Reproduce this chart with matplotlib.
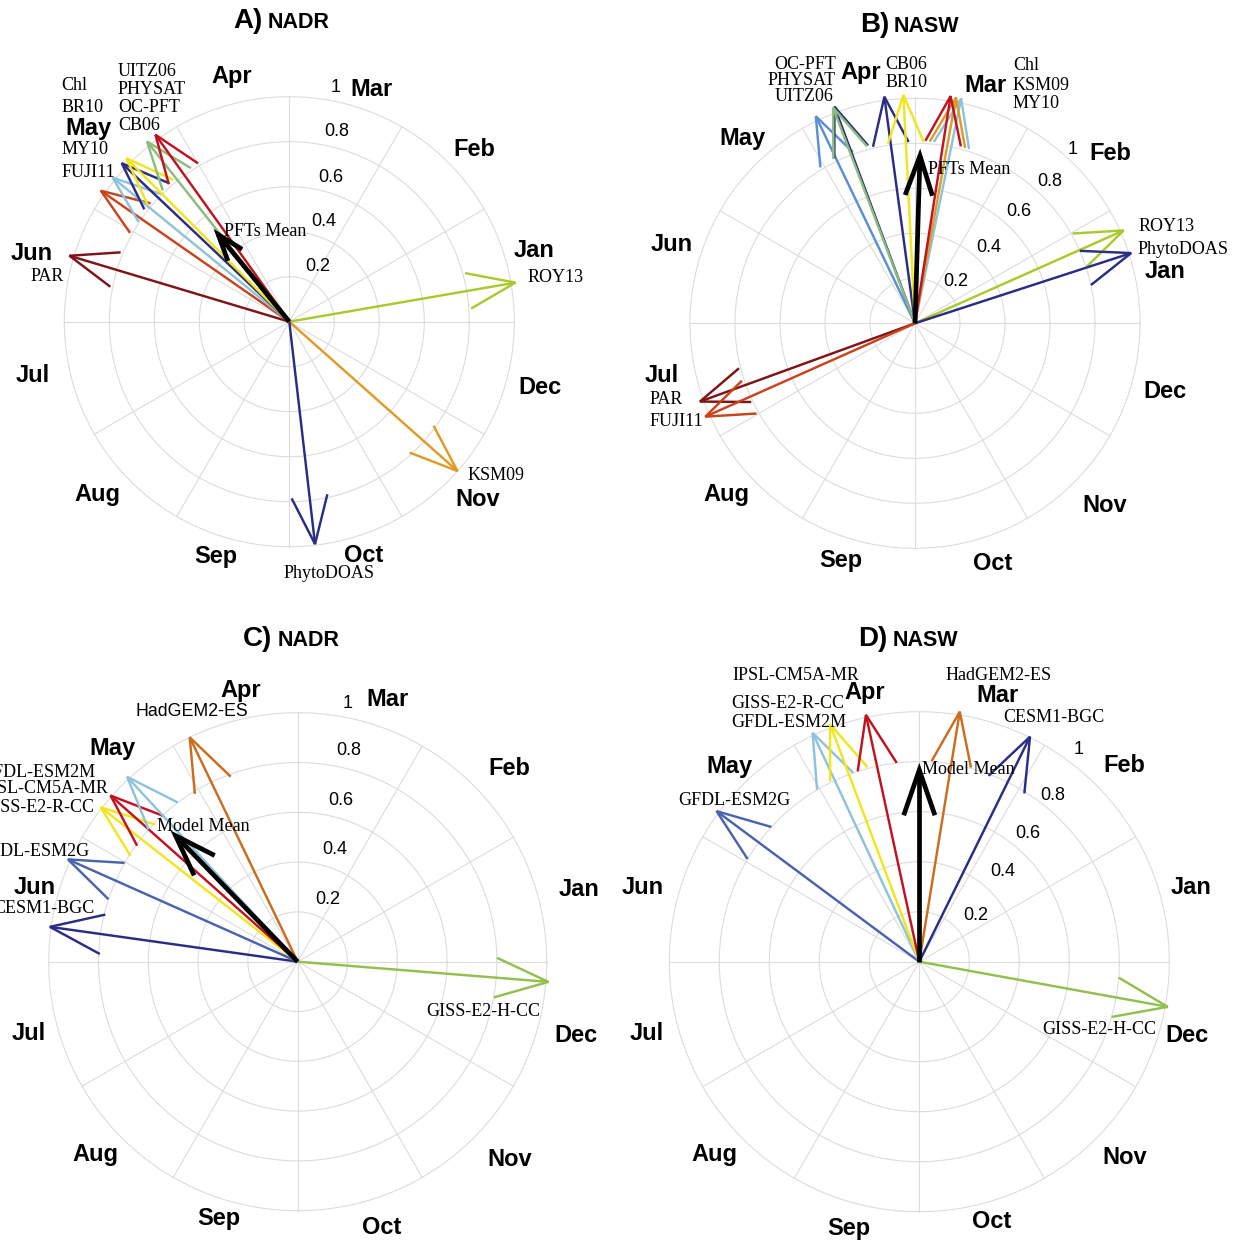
"""Seasonal phasing of phytoplankton products and CMIP5 models, NADR/NASW.

Each arrow points at the month of the seasonal maximum (months run
anticlockwise, January just above the +x axis) and its length is the
normalised amplitude. Black arrow = ensemble mean.
"""

import matplotlib

matplotlib.use("Agg")
import matplotlib.pyplot as plt
import numpy as np

MONTHS = ["Jan", "Feb", "Mar", "Apr", "May", "Jun",
          "Jul", "Aug", "Sep", "Oct", "Nov", "Dec"]
RINGS = [0.2, 0.4, 0.6, 0.8, 1.0]
RING_LABELS = ["0.2", "0.4", "0.6", "0.8", "1"]

# colours
DARKRED = "#7e1416"
RED = "#c0131f"
ORANGERED = "#c9431c"
ORANGE = "#e09b27"
HADORANGE = "#cb6c1f"
YELLOW = "#f2e51c"
YGREEN = "#a9c92d"
GISSGREEN = "#93bf4f"
GREEN = "#8dbd7d"
LIGHTBLUE = "#8fc3dc"
CORNFLOWER = "#5b8fd5"
BLUE = "#4a63ad"
NAVY = "#2b2c83"
GRID = "#dcdcdc"

# A) NADR, satellite products: phase angle (deg) and normalised amplitude
NADR_SAT_ANGLE = [163.3, 9.8, 318.4, 276.6, 145.2, 140.8, 136.6, 134.9, 128.3, 125.6]
NADR_SAT_AMP = [1.02, 1.02, 1.0, 0.995, 1.02, 1.013, 1.025, 1.025, 1.02, 1.022]
NADR_SAT_COLOR = [DARKRED, YGREEN, ORANGE, NAVY, ORANGERED, LIGHTBLUE, NAVY, YELLOW, GREEN, RED]
NADR_SAT_MEAN = (129.2, 0.50)

# B) NASW, satellite products
NASW_SAT_ANGLE = [115.6, 110.4, 110.8, 97.7, 92.9, 78.4, 79.7, 81.1, 200.0, 204.0, 24.0, 18.0]
NASW_SAT_AMP = [1.02, 1.027, 1.025, 1.016, 1.016, 1.02, 1.02, 1.022, 1.017, 1.02, 1.015, 1.01]
NASW_SAT_COLOR = [CORNFLOWER, NAVY, GREEN, NAVY, YELLOW, LIGHTBLUE, ORANGE, RED,
                  DARKRED, ORANGERED, YGREEN, NAVY]
NASW_SAT_MEAN = (88.3, 0.745)

# C) NADR, CMIP5 models
NADR_MOD_ANGLE = [115.7, 172.0, 156.0, 141.9, 138.4, 132.7, 355.4]
NADR_MOD_AMP = [1.0, 1.005, 1.01, 1.005, 1.005, 1.01, 1.01]
NADR_MOD_COLOR = [HADORANGE, NAVY, BLUE, YELLOW, RED, LIGHTBLUE, GISSGREEN]
NADR_MOD_MEAN = (134.1, 0.705)

# D) NASW, CMIP5 models
NASW_MOD_ANGLE = [143.4, 115.0, 110.6, 102.2, 80.8, 63.8, 349.7]
NASW_MOD_AMP = [1.01, 1.01, 1.015, 1.01, 1.013, 1.003, 1.01]
NASW_MOD_COLOR = [BLUE, LIGHTBLUE, YELLOW, RED, HADORANGE, NAVY, GISSGREEN]
NASW_MOD_MEAN = (90.0, 0.767)

# ---- layout (figure pixels, y measured from the top) ----
W, H = 1240, 1243

PANELS = [
    dict(box=(0, 0, 620, 610), center=(289.3, 321.7), R=225,
         angle=NADR_SAT_ANGLE, amp=NADR_SAT_AMP, color=NADR_SAT_COLOR, mean=NADR_SAT_MEAN,
         title=("A)", "NADR", 263, 268, 28),
         months=[(534, 250), (474, 150), (371, 89), (232, 77), (88, 128), (32, 253),
                 (33, 375), (97, 494), (216, 556), (364, 556), (478, 499), (540, 387)],
         rings=[(318, 266), (324, 221), (331, 177), (337, 132), (336, 87)],
         labels=[("Chl", 61.5, 86, "left"), ("BR10", 61.5, 107, "left"),
                 ("MY10", 61.5, 150, "left"), ("FUJI11", 61.5, 172.5, "left"),
                 ("UITZ06", 118, 71, "left"), ("PHYSAT", 118, 89.3, "left"),
                 ("OC-PFT", 118, 107.3, "left"), ("CB06", 118, 125.3, "left"),
                 ("PFTs Mean", 224, 231, "left"), ("PAR", 64, 276.5, "right"),
                 ("ROY13", 528, 278, "left"), ("KSM09", 468, 475, "left"),
                 ("PhytoDOAS", 329, 573, "center")]),
    dict(box=(620, 0, 1240, 610), center=(915.0, 323.3), R=225,
         angle=NASW_SAT_ANGLE, amp=NASW_SAT_AMP, color=NASW_SAT_COLOR, mean=NASW_SAT_MEAN,
         title=("B)", "NASW", 889, 894, 32),
         months=[(1165, 272), (1110, 154), (986, 86), (861, 72), (742, 138), (672, 244),
                 (662, 376), (726, 494), (841, 561), (993, 564), (1105, 505), (1165, 392)],
         rings=[(956, 281), (989, 247), (1019, 212), (1050, 182), (1073, 149)],
         labels=[("OC-PFT", 836, 64.3, "right"), ("PHYSAT", 836, 80.7, "right"),
                 ("UITZ06", 834, 96.7, "right"), ("CB06", 885, 64.3, "left"),
                 ("BR10", 885.5, 82.7, "left"), ("Chl", 1013, 65, "left"),
                 ("KSM09", 1013, 85, "left"), ("MY10", 1013, 104, "left"),
                 ("PFTs Mean", 928, 169, "left"), ("ROY13", 1139, 226.5, "left"),
                 ("PhytoDOAS", 1138, 249.4, "left"), ("PAR", 649.3, 399.3, "left"),
                 ("FUJI11", 649.3, 421.7, "left")]),
    dict(box=(0, 610, 620, 1243), center=(297.7, 961.7), R=249,
         angle=NADR_MOD_ANGLE, amp=NADR_MOD_AMP, color=NADR_MOD_COLOR, mean=NADR_MOD_MEAN,
         title=("C)", "NADR", 272, 278, 646),
         months=[(579, 889), (509, 769), (388, 700), (241, 690), (112, 749), (35, 888),
                 (29, 1034), (95, 1154), (219, 1218), (382, 1227), (510, 1159), (576, 1035)],
         rings=[(328, 900), (335, 850), (341, 801), (349, 751), (348, 703)],
         labels=[("HadGEM2-ES", 191.5, 712, "center", "sans"),
                 ("GFDL-ESM2M", 95, 772.7, "right"), ("IPSL-CM5A-MR", 108.3, 788.3, "right"),
                 ("GISS-E2-R-CC", 94.3, 807.7, "right"), ("GFDL-ESM2G", 90, 851.7, "right"),
                 ("CESM1-BGC", 94.3, 908.3, "right"), ("Model Mean", 156.7, 826.7, "left"),
                 ("GISS-E2-H-CC", 483, 1012, "center")]),
    dict(box=(620, 610, 1240, 1243), center=(919.3, 961.7), R=250,
         angle=NASW_MOD_ANGLE, amp=NASW_MOD_AMP, color=NASW_MOD_COLOR, mean=NASW_MOD_MEAN,
         title=("D)", "NASW", 887, 893, 646),
         months=[(1191, 888), (1124, 766), (998, 696), (865, 692), (729, 767), (643, 888),
                 (647, 1034), (714, 1155), (849, 1228), (992, 1222), (1125, 1157), (1187, 1035)],
         rings=[(976, 915), (1003, 872), (1028, 834), (1053, 795), (1079, 750)],
         labels=[("IPSL-CM5A-MR", 732, 676, "left"), ("GISS-E2-R-CC", 731, 704, "left"),
                 ("GFDL-ESM2M", 731, 722.3, "left"), ("HadGEM2-ES", 946, 676, "left"),
                 ("CESM1-BGC", 1003.3, 717.5, "left"), ("Model Mean", 921.7, 770, "left"),
                 ("GFDL-ESM2G", 678.3, 800.7, "left"), ("GISS-E2-H-CC", 1099, 1030, "center")]),
]

SANS = "Liberation Sans"
SERIF = "Liberation Serif"
HEAD = 0.228          # arrowhead edge length, in amplitude units
HEAD_SPREAD = 20.5    # half-angle of the arrowhead, deg
MEAN_HEAD = 0.25      # fraction of the mean arrow's length


def draw_arrow(ax, angle, amp, color, lw, head, spread):
    th = np.radians(angle)
    tx, ty = amp * np.cos(th), amp * np.sin(th)
    ax.plot([0, tx], [0, ty], color=color, lw=lw, solid_capstyle="butt", zorder=3)
    back = th + np.pi
    sp = np.radians(spread)
    bx = [tx + head * np.cos(back - sp), tx, tx + head * np.cos(back + sp)]
    by = [ty + head * np.sin(back - sp), ty, ty + head * np.sin(back + sp)]
    ax.plot(bx, by, color=color, lw=lw, solid_capstyle="butt",
            solid_joinstyle="miter", zorder=3)


fig = plt.figure(figsize=(W / 100, H / 100), dpi=100)
fig.patch.set_facecolor("white")

for p in PANELS:
    x0, y0, x1, y1 = p["box"]
    cx, cy = p["center"]
    R = p["R"]
    ax = fig.add_axes([x0 / W, 1 - y1 / H, (x1 - x0) / W, (y1 - y0) / H])
    ax.set_xlim((x0 - cx) / R, (x1 - cx) / R)
    ax.set_ylim((cy - y1) / R, (cy - y0) / R)
    ax.axis("off")

    def to_xy(px, py):
        return (px - cx) / R, (cy - py) / R

    # polar grid
    t = np.linspace(0, 2 * np.pi, 400)
    for r in RINGS:
        ax.plot(r * np.cos(t), r * np.sin(t), color=GRID, lw=0.8, zorder=1)
    for a in np.radians(np.arange(0, 360, 30)):
        ax.plot([0, np.cos(a)], [0, np.sin(a)], color=GRID, lw=0.8, zorder=1)

    for lab, (px, py) in zip(RING_LABELS, p["rings"]):
        x, y = to_xy(px, py)
        ax.text(x, y, lab, family=SANS, fontsize=13, ha="center", va="center", zorder=2)

    for m, (px, py) in zip(MONTHS, p["months"]):
        x, y = to_xy(px, py)
        ax.text(x, y, m, family=SANS, fontsize=17, fontweight="bold",
                ha="center", va="center", zorder=2)

    for ang, amp, col in zip(p["angle"], p["amp"], p["color"]):
        draw_arrow(ax, ang, amp, col, 1.75, HEAD, HEAD_SPREAD)
    m_ang, m_amp = p["mean"]
    draw_arrow(ax, m_ang, m_amp, "black", 3.4, MEAN_HEAD * m_amp, 19)

    for spec in p["labels"]:
        text, px, py, ha = spec[:4]
        fam = SANS if len(spec) > 4 else SERIF
        size = 12.8 if len(spec) > 4 else 13
        x, y = to_xy(px, py)
        ax.text(x, y, text, family=fam, fontsize=size, ha=ha, va="center",
                zorder=4, clip_on=False)

    big, small, xr, xl, base = p["title"]
    x, y = to_xy(xr, base)
    ax.text(x, y, big, family=SANS, fontsize=20, fontweight="bold",
            ha="right", va="baseline")
    x, y = to_xy(xl, base)
    ax.text(x, y, small, family=SANS, fontsize=15.5, fontweight="bold",
            ha="left", va="baseline")

fig.savefig("out.png", dpi=100, facecolor="white")
